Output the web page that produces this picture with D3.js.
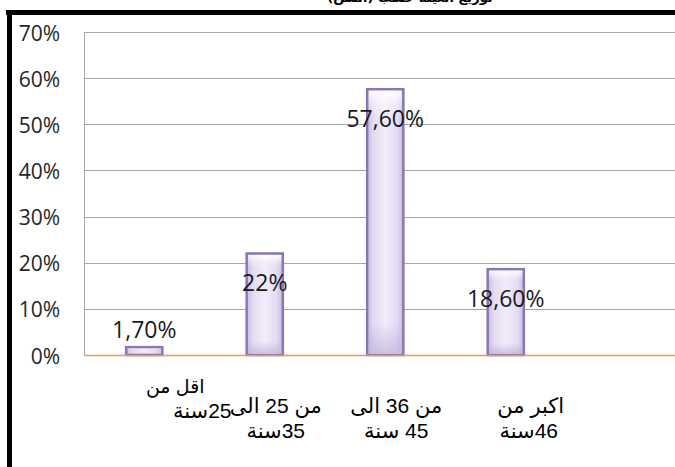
<!DOCTYPE html>
<html>
<head>
<meta charset="utf-8">
<script src="https://cdn.jsdelivr.net/npm/d3@7"></script>
<style>
  html, body { margin: 0; padding: 0; background: #fff; }
  svg { display: block; }
</style>
</head>
<body>
<div id="chart"></div>
<script>
// ---- data ----
const categories = ["cat1", "cat2", "cat3", "cat4"];
const categoryLines = [
  ["اقل من", "25سنة"],
  ["من 25 الى", "35سنة"],
  ["من 36 الى", "45 سنة"],
  ["اكبر من", "46سنة"]
];
const values = [0.017, 0.22, 0.576, 0.186];
const valueLabels = ["1,70%", "22%", "57,60%", "18,60%"];
const yTicks = [0, 0.1, 0.2, 0.3, 0.4, 0.5, 0.6, 0.7];
const yTickLabels = ["0%", "10%", "20%", "30%", "40%", "50%", "60%", "70%"];
const titleText = "توزيع العينة حسب (السن)";

// ---- layout ----
const W = 675, H = 467;
const plotLeft = 84, plotRight = 566, plotTop = 32, plotBottom = 355;

const svg = d3.select("#chart").append("svg")
  .attr("width", W).attr("height", H);

const defs = svg.append("defs");
const gH = defs.append("linearGradient").attr("id", "barH")
  .attr("x1", "0").attr("x2", "1").attr("y1", "0").attr("y2", "0");
[["0%", "#c9bce2"], ["18%", "#e4dcf3"], ["50%", "#f1ecf9"], ["82%", "#e4dcf3"], ["100%", "#c9bce2"]]
  .forEach(([o, c]) => gH.append("stop").attr("offset", o).attr("stop-color", c));
const gV = defs.append("linearGradient").attr("id", "barV")
  .attr("x1", "0").attr("x2", "0").attr("y1", "0").attr("y2", "1");
[["0%", "#ffffff", 0.9], ["6%", "#ffffff", 0.35], ["12%", "#ffffff", 0], ["88%", "#b9a8d8", 0], ["100%", "#b9a8d8", 0.6]]
  .forEach(([o, c, a]) => gV.append("stop").attr("offset", o).attr("stop-color", c).attr("stop-opacity", a));

const x = d3.scaleBand().domain(categories).range([plotLeft, plotRight])
  .paddingInner(0.7).paddingOuter(0.35);
const y = d3.scaleLinear().domain([0, 0.7]).range([plotBottom, plotTop]);

// title remnant (cut off at top, as in the reference)
svg.append("text")
  .attr("x", 410).attr("y", 2)
  .attr("text-anchor", "middle")
  .attr("direction", "rtl")
  .attr("font-family", "'DejaVu Sans', 'Liberation Sans', sans-serif")
  .attr("font-weight", "bold")
  .attr("font-size", 13)
  .attr("fill", "#000")
  .text(titleText);

// gridlines
svg.append("g").selectAll("line")
  .data(yTicks.filter(t => t > 0))
  .join("line")
  .attr("x1", plotLeft).attr("x2", W)
  .attr("y1", d => Math.round(y(d)) + 0.5).attr("y2", d => Math.round(y(d)) + 0.5)
  .attr("stroke", "#a6a6a6").attr("stroke-width", 1);

// left axis line
svg.append("line")
  .attr("x1", plotLeft + 0.5).attr("x2", plotLeft + 0.5)
  .attr("y1", y(0.7)).attr("y2", y(0))
  .attr("stroke", "#a6a6a6").attr("stroke-width", 1);

// y tick labels
svg.append("g").selectAll("text")
  .data(yTicks)
  .join("text")
  .attr("x", 60)
  .attr("y", d => y(d) + 8.5)
  .attr("text-anchor", "end")
  .attr("font-family", "'Open Sans', 'Liberation Sans', sans-serif")
  .attr("font-size", 21)
  .attr("fill", "#262626")
  .text((d, i) => yTickLabels[i]);

// bars
const bars = svg.append("g");
bars.selectAll("rect.fill")
  .data(values)
  .join("rect")
  .attr("class", "fill")
  .attr("x", (d, i) => x(categories[i]))
  .attr("y", d => y(d))
  .attr("width", x.bandwidth())
  .attr("height", d => y(0) - y(d))
  .attr("fill", "url(#barH)")
  .attr("stroke", "#8a76b2")
  .attr("stroke-width", 2.5);
bars.selectAll("rect.shade")
  .data(values)
  .join("rect")
  .attr("class", "shade")
  .attr("x", (d, i) => x(categories[i]) + 1.5)
  .attr("y", d => y(d) + 1.5)
  .attr("width", x.bandwidth() - 3)
  .attr("height", d => Math.max(0, y(0) - y(d) - 3))
  .attr("fill", "url(#barV)");

// baseline (orange)
svg.append("line")
  .attr("x1", plotLeft).attr("x2", W)
  .attr("y1", y(0) + 0.5).attr("y2", y(0) + 0.5)
  .attr("stroke", "#f79646").attr("stroke-width", 1.5);

// value labels
svg.append("g").selectAll("text")
  .data(values)
  .join("text")
  .attr("x", (d, i) => x(categories[i]) + x.bandwidth() / 2)
  .attr("y", d => (y(0) - y(d) > 45 ? y(d) + 38 : y(d) - 9))
  .attr("text-anchor", "middle")
  .attr("font-family", "'Open Sans', 'Liberation Sans', sans-serif")
  .attr("font-size", 23)
  .attr("fill", "#1a1a1a")
  .text((d, i) => valueLabels[i]);

// category labels
const labelShift = [[31, 58], [11, 11], [11, 11], [25, 23]];
const labelTop = [393, 413, 413, 413];
const catG = svg.append("g");
categories.forEach((c, i) => {
  const cx = x(c) + x.bandwidth() / 2;
  categoryLines[i].forEach((line, j) => {
    catG.append("text")
      .attr("x", cx + labelShift[i][j])
      .attr("y", labelTop[i] + j * 25)
      .attr("text-anchor", "middle")
      .attr("direction", "rtl")
      .attr("font-family", "'Liberation Sans', 'DejaVu Sans', sans-serif")
      .attr("font-size", i === 0 && j === 0 ? 19 : 21)
      .attr("fill", "#000")
      .text(line);
  });
});

// black frame
svg.append("rect").attr("x", 6).attr("y", 10).attr("width", W - 6).attr("height", 5).attr("fill", "#000");
svg.append("rect").attr("x", 7).attr("y", 10).attr("width", 5).attr("height", H - 10).attr("fill", "#000");
</script>
</body>
</html>
